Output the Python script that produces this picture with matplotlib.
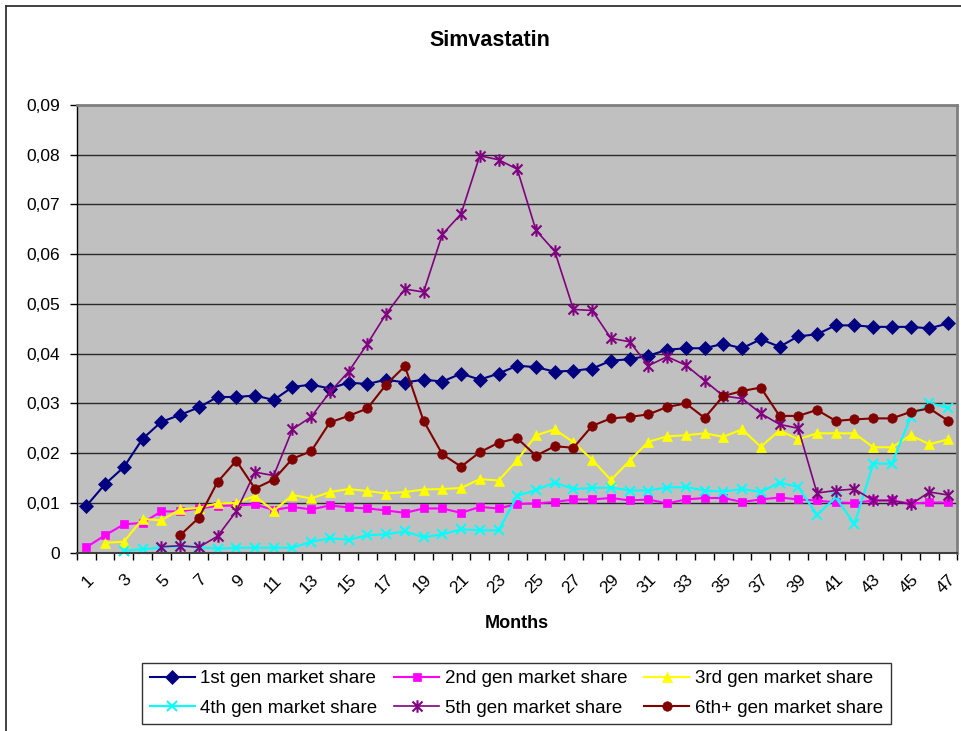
import numpy as np
import matplotlib
matplotlib.use("Agg")
import matplotlib.pyplot as plt
from matplotlib.path import Path
from matplotlib.lines import Line2D
from matplotlib.ticker import FuncFormatter, FixedLocator

plt.rcParams['font.family'] = ['Liberation Sans', 'DejaVu Sans']

nan = np.nan
months = list(range(1, 48))

gen1 = [0.0094, 0.0138, 0.0172, 0.0229, 0.0263, 0.0277, 0.0292, 0.0313, 0.0313, 0.0316,
        0.0307, 0.0333, 0.0338, 0.0330, 0.0342, 0.0339, 0.0348, 0.0342, 0.0348, 0.0344,
        0.0360, 0.0348, 0.0360, 0.0376, 0.0373, 0.0364, 0.0366, 0.0370, 0.0386, 0.0389,
        0.0396, 0.0408, 0.0411, 0.0411, 0.0420, 0.0411, 0.0429, 0.0414, 0.0435, 0.0439,
        0.0457, 0.0457, 0.0454, 0.0454, 0.0454, 0.0451, 0.0461]
gen2 = [0.0011, 0.0035, 0.0057, 0.0060, 0.0083, 0.0083, 0.0089, 0.0094, 0.0095, 0.0097,
        0.0086, 0.0092, 0.0087, 0.0095, 0.0091, 0.0089, 0.0085, 0.0080, 0.0089, 0.0089,
        0.0080, 0.0092, 0.0089, 0.0098, 0.0099, 0.0102, 0.0107, 0.0107, 0.0110, 0.0105,
        0.0107, 0.0099, 0.0107, 0.0110, 0.0110, 0.0102, 0.0107, 0.0111, 0.0107, 0.0105,
        0.0101, 0.0100, 0.0105, 0.0105, 0.0099, 0.0101, 0.0101]
gen3 = [nan, 0.0020, 0.0022, 0.0068, 0.0065, 0.0087, 0.0090, 0.0099, 0.0100, 0.0114,
        0.0084, 0.0116, 0.0109, 0.0122, 0.0128, 0.0124, 0.0119, 0.0122, 0.0127, 0.0128,
        0.0130, 0.0148, 0.0145, 0.0186, 0.0236, 0.0248, 0.0222, 0.0187, 0.0146, 0.0185,
        0.0223, 0.0234, 0.0236, 0.0240, 0.0233, 0.0248, 0.0213, 0.0246, 0.0228, 0.0240,
        0.0240, 0.0240, 0.0212, 0.0212, 0.0236, 0.0218, 0.0228]
gen4 = [nan, nan, 0.0004, 0.0007, 0.0010, 0.0013, 0.0011, 0.0008, 0.0010, 0.0010,
        0.0010, 0.0010, 0.0022, 0.0029, 0.0026, 0.0035, 0.0037, 0.0043, 0.0031, 0.0037,
        0.0047, 0.0045, 0.0045, 0.0114, 0.0126, 0.0141, 0.0128, 0.0130, 0.0131, 0.0125,
        0.0125, 0.0131, 0.0132, 0.0125, 0.0123, 0.0128, 0.0122, 0.0141, 0.0132, 0.0076,
        0.0111, 0.0058, 0.0179, 0.0179, 0.0273, 0.0301, 0.0291]
gen5 = [nan, nan, nan, nan, 0.0012, 0.0014, 0.0011, 0.0033, 0.0083, 0.0162,
        0.0155, 0.0248, 0.0273, 0.0323, 0.0364, 0.0420, 0.0480, 0.0530, 0.0524, 0.0640,
        0.0681, 0.0798, 0.0790, 0.0771, 0.0648, 0.0606, 0.0489, 0.0487, 0.0431, 0.0424,
        0.0376, 0.0394, 0.0377, 0.0346, 0.0315, 0.0310, 0.0280, 0.0258, 0.0250, 0.0120,
        0.0125, 0.0128, 0.0105, 0.0105, 0.0097, 0.0122, 0.0116]
gen6 = [nan, nan, nan, nan, nan, 0.0035, 0.0070, 0.0142, 0.0185, 0.0129,
        0.0147, 0.0189, 0.0204, 0.0262, 0.0275, 0.0290, 0.0338, 0.0375, 0.0265, 0.0198,
        0.0173, 0.0202, 0.0221, 0.0230, 0.0195, 0.0214, 0.0211, 0.0255, 0.0270, 0.0273,
        0.0278, 0.0293, 0.0300, 0.0271, 0.0315, 0.0325, 0.0332, 0.0275, 0.0275, 0.0287,
        0.0265, 0.0268, 0.0270, 0.0270, 0.0283, 0.0290, 0.0265]

labels = ["1st gen market share", "2nd gen market share", "3rd gen market share",
          "4th gen market share", "5th gen market share", "6th+ gen market share"]
y_ticks = [0.0, 0.01, 0.02, 0.03, 0.04, 0.05, 0.06, 0.07, 0.08, 0.09]

# asterisk marker: an X crossed by a vertical stroke
star = Path([(-1, -1), (1, 1), (-1, 1), (1, -1), (0, -1.25), (0, 1.25)],
            [Path.MOVETO, Path.LINETO, Path.MOVETO, Path.LINETO, Path.MOVETO, Path.LINETO])

styles = [
    dict(color="#000080", marker="D", ms=7.0, lw=1.5, mfc="#000080", mec="#000080", mew=0.5),
    dict(color="#FF00FF", marker="s", ms=6.2, lw=1.5, mfc="#FF00FF", mec="#FF00FF", mew=0.5),
    dict(color="#FFFF00", marker="^", ms=7.5, lw=1.5, mfc="#FFFF00", mec="#FFFF00", mew=0.5),
    dict(color="#00FFFF", marker="x", ms=7.0, lw=1.5, mec="#00FFFF", mew=1.4),
    dict(color="#800080", marker=star, ms=9.0, lw=1.2, mec="#800080", mew=1.5),
    dict(color="#800000", marker="o", ms=6.8, lw=1.5, mfc="#800000", mec="#800000", mew=0.5),
]
series = [gen1, gen2, gen3, gen4, gen5, gen6]

W, H = 962, 731
fig = plt.figure(figsize=(W / 100, H / 100), dpi=100)
fig.patch.set_facecolor("white")

# chart frame (top and left edges)
fig.add_artist(Line2D([5.5 / W, 1.0], [1 - 5.5 / H] * 2, transform=fig.transFigure,
                      color="#333333", lw=1.3))
fig.add_artist(Line2D([5.5 / W] * 2, [0.0, 1 - 5.5 / H], transform=fig.transFigure,
                      color="#333333", lw=1.3))

left, right, top, bottom = 77, 957.5, 105, 552.7
ax = fig.add_axes([left / W, 1 - bottom / H, (right - left) / W, (bottom - top) / H])
ax.set_facecolor("#C0C0C0")

lines = []
for vals, st, lab in zip(series, styles, labels):
    ln, = ax.plot(months, vals, label=lab, clip_on=False, **st)
    lines.append(ln)

ax.set_xlim(0.5, 47.5)
ax.set_ylim(0, 0.09)
ax.set_yticks(y_ticks)
ax.yaxis.set_major_formatter(FuncFormatter(
    lambda v, p: "0" if abs(v) < 1e-9 else f"{v:.2f}".replace(".", ",")))
ax.yaxis.grid(True, color="#2a2a2a", lw=1.0)
ax.set_axisbelow(True)

ax.set_xticks(months[::2])
ax.set_xticklabels([str(m) for m in months[::2]], rotation=45, ha="right", va="top",
                   rotation_mode="anchor")
ax.xaxis.set_minor_locator(FixedLocator(np.arange(0.5, 48, 1.0)))
ax.tick_params(axis="x", which="major", length=0, pad=14, labelsize=12.5)
ax.tick_params(axis="x", which="minor", length=5, width=1, direction="out", color="black")
ax.tick_params(axis="y", length=5, width=1, direction="out", pad=7, labelsize=12.5)

for side in ("top", "right"):
    ax.spines[side].set_color("#808080")
    ax.spines[side].set_linewidth(2)
ax.spines["left"].set_color("black")
ax.spines["left"].set_linewidth(1)
ax.spines["bottom"].set_color("#404040")
ax.spines["bottom"].set_linewidth(1.5)

fig.text(490 / W, 1 - 40 / H, "Simvastatin", ha="center", va="center",
         fontsize=15.5, fontweight="bold")
fig.text(517 / W, 1 - 623 / H, "Months", ha="center", va="center",
         fontsize=13, fontweight="bold")

# legend reads row by row: reorder for column-major filling
order = [0, 3, 1, 4, 2, 5]
leg = fig.legend([lines[i] for i in order], [labels[i] for i in order],
                 loc="center", bbox_to_anchor=(516.5 / W, 1 - 693.5 / H), ncol=3,
                 fontsize=13.5, frameon=True, fancybox=False, edgecolor="black",
                 handlelength=2.4, handletextpad=0.3, columnspacing=0.9,
                 labelspacing=0.65, borderpad=0.4, borderaxespad=0)
leg.get_frame().set_linewidth(1.0)

fig.savefig("out.png", dpi=100)
